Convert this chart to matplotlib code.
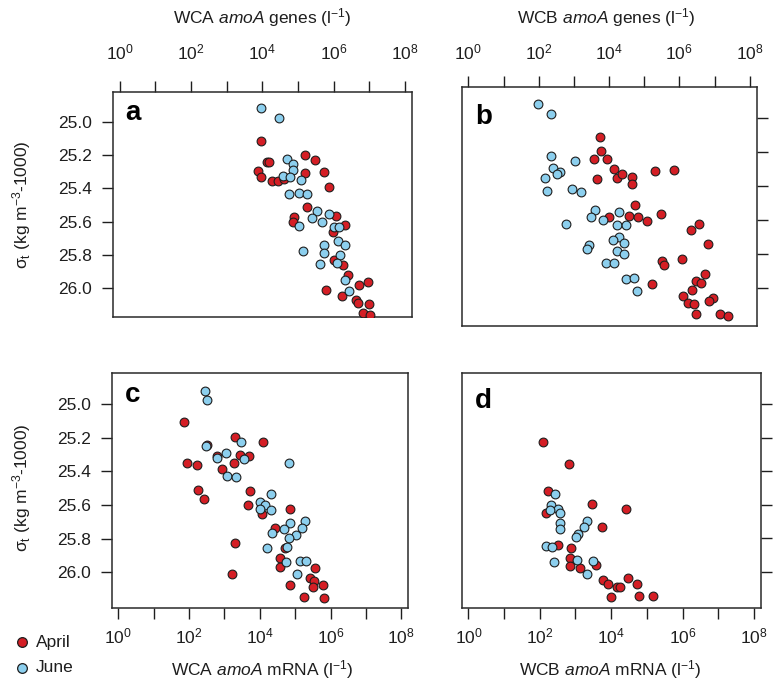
import numpy as np
import matplotlib
matplotlib.use("Agg")
import matplotlib.pyplot as plt
from matplotlib.ticker import FixedLocator, FuncFormatter, NullLocator

plt.rcParams['font.family'] = ['Liberation Sans', 'DejaVu Sans']
plt.rcParams['mathtext.fontset'] = 'custom'
plt.rcParams['mathtext.rm'] = 'Liberation Sans'
plt.rcParams['mathtext.it'] = 'Liberation Sans:italic'
plt.rcParams['mathtext.bf'] = 'Liberation Sans:bold'

# data: log10 abundance (x) and sigma-t (y)
# panel a : WCA amoA genes
a_apr_x = [3.95, 5.20, 5.48, 4.12, 4.20, 3.88, 3.95, 4.27, 4.44, 4.61, 5.20, 5.73, 5.87, 5.24, 4.88, 4.86,
           6.07, 6.31, 5.98, 6.02, 6.26, 6.40, 6.96, 6.71, 5.79, 6.23, 6.62, 6.68, 6.99, 6.82, 7.01]
a_apr_y = [25.114, 25.20, 25.23, 25.242, 25.242, 25.298, 25.33, 25.356, 25.354, 25.346, 25.31, 25.304, 25.39,
           25.512, 25.574, 25.602, 25.566, 25.622, 25.66, 25.83, 25.86, 25.92, 25.96, 25.978, 26.012, 26.046,
           26.07, 26.09, 26.096, 26.15, 26.162]
a_jun_x = [3.95, 4.48, 4.68, 4.86, 4.86, 4.59, 4.77, 5.09, 4.75, 5.04, 5.24, 5.53, 5.39, 5.67, 5.86, 5.04,
           6.02, 6.15, 6.12, 6.33, 5.73, 5.72, 5.13, 6.18, 5.61, 6.09, 6.31, 6.42]
a_jun_y = [24.92, 24.976, 25.226, 25.254, 25.29, 25.324, 25.334, 25.35, 25.434, 25.426, 25.436, 25.536, 25.576,
           25.604, 25.554, 25.624, 25.63, 25.63, 25.714, 25.738, 25.742, 25.786, 25.774, 25.80, 25.856, 25.85,
           25.95, 26.018]

# panel b : WCB amoA genes
b_apr_x = [3.74, 3.76, 3.56, 3.93, 4.14, 5.30, 5.84, 3.65, 4.24, 4.38, 4.64, 4.65, 4.75, 4.56, 4.83, 4.00,
           5.07, 5.47, 6.56, 6.33, 6.82, 5.50, 5.57, 6.07, 6.74, 6.47, 6.63, 5.22, 6.37, 6.09, 6.97, 6.85,
           6.25, 6.41, 6.47, 7.17, 7.37]
b_apr_y = [25.112, 25.196, 25.241, 25.241, 25.30, 25.308, 25.304, 25.359, 25.353, 25.329, 25.349, 25.39,
           25.512, 25.573, 25.578, 25.578, 25.604, 25.563, 25.62, 25.657, 25.737, 25.839, 25.865, 25.829,
           25.914, 25.957, 25.965, 25.975, 26.01, 26.043, 26.053, 26.076, 26.088, 26.092, 26.151, 26.151, 26.159]
b_jun_x = [1.97, 2.34, 2.36, 3.03, 2.40, 2.60, 2.53, 2.19, 2.25, 2.95, 3.19, 3.60, 3.50, 3.82, 4.29, 2.78,
           4.23, 4.48, 4.28, 4.12, 4.43, 3.44, 3.37, 4.23, 4.44, 3.91, 4.15, 4.48, 4.72, 4.80]
b_jun_y = [24.92, 24.976, 25.225, 25.251, 25.294, 25.318, 25.329, 25.351, 25.431, 25.418, 25.435, 25.539,
           25.578, 25.60, 25.549, 25.622, 25.629, 25.629, 25.696, 25.718, 25.735, 25.745, 25.769, 25.78,
           25.796, 25.851, 25.849, 25.945, 25.937, 26.012]

# panel c : WCA amoA mRNA
c_apr_x = [1.85, 3.29, 4.09, 2.51, 2.80, 3.45, 3.70, 3.27, 1.95, 2.23, 2.94, 2.24, 2.43, 3.72, 3.67, 4.05,
           4.85, 4.42, 3.31, 4.71, 4.57, 4.58, 3.20, 5.57, 5.41, 5.52, 5.51, 5.79, 4.85, 5.24, 5.81]
c_apr_y = [25.109, 25.198, 25.228, 25.244, 25.309, 25.303, 25.309, 25.352, 25.352, 25.362, 25.386, 25.511,
           25.564, 25.517, 25.602, 25.655, 25.622, 25.735, 25.824, 25.857, 25.917, 25.966, 26.01, 25.974,
           26.036, 26.05, 26.089, 26.075, 26.075, 26.147, 26.15]
c_jun_x = [2.45, 2.50, 3.46, 2.48, 3.05, 2.80, 3.54, 3.07, 3.33, 4.82, 4.31, 4.00, 4.16, 4.00, 4.33, 4.86,
           4.67, 4.34, 5.27, 5.20, 5.01, 4.82, 4.20, 4.77, 4.75, 5.15, 5.30, 5.06]
c_jun_y = [24.921, 24.976, 25.226, 25.251, 25.293, 25.319, 25.325, 25.426, 25.432, 25.352, 25.537, 25.58,
           25.60, 25.624, 25.63, 25.709, 25.745, 25.768, 25.695, 25.735, 25.778, 25.798, 25.855, 25.848,
           25.941, 25.933, 25.933, 26.01]

# panel d : WCB amoA mRNA
d_apr_x = [2.08, 2.81, 2.23, 2.18, 3.45, 4.41, 3.73, 2.50, 2.87, 2.84, 2.84, 3.13, 3.58, 3.76, 3.90, 4.46,
           4.73, 4.16, 4.24, 3.99, 4.79, 5.16]
d_apr_y = [25.228, 25.36, 25.515, 25.651, 25.598, 25.622, 25.735, 25.838, 25.857, 25.917, 25.962, 25.976,
           25.956, 26.046, 26.069, 26.036, 26.071, 26.091, 26.091, 26.15, 26.145, 26.145]
d_jun_x = [2.43, 2.31, 2.52, 2.56, 2.28, 2.56, 2.57, 3.31, 3.23, 3.06, 3.02, 2.17, 2.33, 2.40, 3.05, 3.49, 3.31]
d_jun_y = [25.537, 25.60, 25.624, 25.646, 25.63, 25.709, 25.743, 25.695, 25.735, 25.772, 25.794, 25.848,
           25.853, 25.941, 25.931, 25.933, 26.01]

xticks = [0, 1, 2, 3, 4, 5, 6, 7, 8]
yticks = [25.0, 25.2, 25.4, 25.6, 25.8, 26.0]
season_labels = ['April', 'June']

RED = '#d41e25'
BLUE = '#8ccfee'
INK = '#1e1e1e'
W, H = 773, 687

fig = plt.figure(figsize=(W / 100, H / 100), dpi=100)


def px_axes(x0, y0, x1, y1):
    # box given in pixel coords (top-left origin)
    return fig.add_axes([x0 / W, 1 - y1 / H, (x1 - x0) / W, (y1 - y0) / H])


def exp_fmt(v, pos):
    e = int(round(np.log10(v)))
    return r'$10^{%d}$' % e if e % 2 == 0 else ''


def setup(ax, ylim, top, right, xpad):
    ax.set_xscale('log')
    ax.set_xlim(10 ** -0.19, 10 ** 8.2)
    ax.set_ylim(*ylim)
    ax.xaxis.set_major_locator(FixedLocator([10.0 ** t for t in xticks]))
    ax.xaxis.set_minor_locator(NullLocator())
    ax.xaxis.set_major_formatter(FuncFormatter(exp_fmt))
    ax.set_yticks(yticks)
    ax.set_yticklabels(['%.1f' % t for t in yticks])
    if top:
        ax.xaxis.tick_top()
    if right:
        ax.yaxis.tick_right()
        ax.tick_params(axis='y', labelright=False)
    ax.tick_params(axis='both', direction='out', length=8, width=1.0, color=INK,
                   labelsize=12.5, labelcolor=INK)
    ax.tick_params(axis='x', pad=xpad)
    ax.tick_params(axis='y', pad=7)
    for s in ax.spines.values():
        s.set_linewidth(1.1)
        s.set_color('#2a2a2a')


def scatter(ax, ax_apr, ay_apr, ax_jun, ay_jun):
    ax.scatter(10 ** np.array(ax_apr), ay_apr, s=40, c=RED, edgecolors=INK, linewidths=0.8, zorder=3)
    ax.scatter(10 ** np.array(ax_jun), ay_jun, s=40, c=BLUE, edgecolors=INK, linewidths=0.8, zorder=3)


ax_a = px_axes(113, 91.7, 412, 317.3)
setup(ax_a, (26.174, 24.82), True, False, 13)
scatter(ax_a, a_apr_x, a_apr_y, a_jun_x, a_jun_y)

ax_b = px_axes(461.7, 87.3, 756.7, 326)
setup(ax_b, (26.22, 24.82), True, True, 10)
scatter(ax_b, b_apr_x, b_apr_y, b_jun_x, b_jun_y)

ax_c = px_axes(111.7, 372.7, 408.3, 608.3)
setup(ax_c, (26.214, 24.814), False, False, 5)
scatter(ax_c, c_apr_x, c_apr_y, c_jun_x, c_jun_y)

ax_d = px_axes(461.7, 372.7, 761, 608)
setup(ax_d, (26.214, 24.814), False, True, 5)
scatter(ax_d, d_apr_x, d_apr_y, d_jun_x, d_jun_y)

# panel letters
for lab, (x, y) in zip('abcd', [(125, 120), (475, 124), (125, 402), (475, 408)]):
    fig.text(x / W, 1 - y / H, lab, fontsize=20, fontweight='bold', va='baseline', ha='left')

# axis titles
fig.text(262 / W, 1 - 18 / H, r'WCA $\it{amoA}$ genes (l$^{\mathdefault{-1}}$)', fontsize=12.5,
         ha='center', va='center', color=INK)
fig.text(606 / W, 1 - 18 / H, r'WCB $\it{amoA}$ genes (l$^{\mathdefault{-1}}$)', fontsize=12.5,
         ha='center', va='center', color=INK)
fig.text(262 / W, 1 - 670 / H, r'WCA $\it{amoA}$ mRNA (l$^{\mathdefault{-1}}$)', fontsize=12.5,
         ha='center', va='center', color=INK)
fig.text(610 / W, 1 - 670 / H, r'WCB $\it{amoA}$ mRNA (l$^{\mathdefault{-1}}$)', fontsize=12.5,
         ha='center', va='center', color=INK)

ylab = r'$\mathrm{\sigma}_{\mathrm{t}}$ (kg m$^{\mathdefault{-3}}$-1000)'
for yc in [205, 488]:
    fig.text(22 / W, 1 - yc / H, ylab, fontsize=12.5, rotation=90, ha='center', va='center',
             color=INK)

# legend
for lab, col, yc in zip(season_labels, [RED, BLUE], [642, 668]):
    fig.lines.append(plt.Line2D([22 / W], [1 - yc / H], transform=fig.transFigure, marker='o',
                                markersize=7, markerfacecolor=col, markeredgecolor=INK,
                                markeredgewidth=0.9, linestyle='none'))
    fig.text(36 / W, 1 - yc / H, lab, fontsize=12.5, ha='left', va='center', color=INK)

fig.savefig('out.png', dpi=100)
